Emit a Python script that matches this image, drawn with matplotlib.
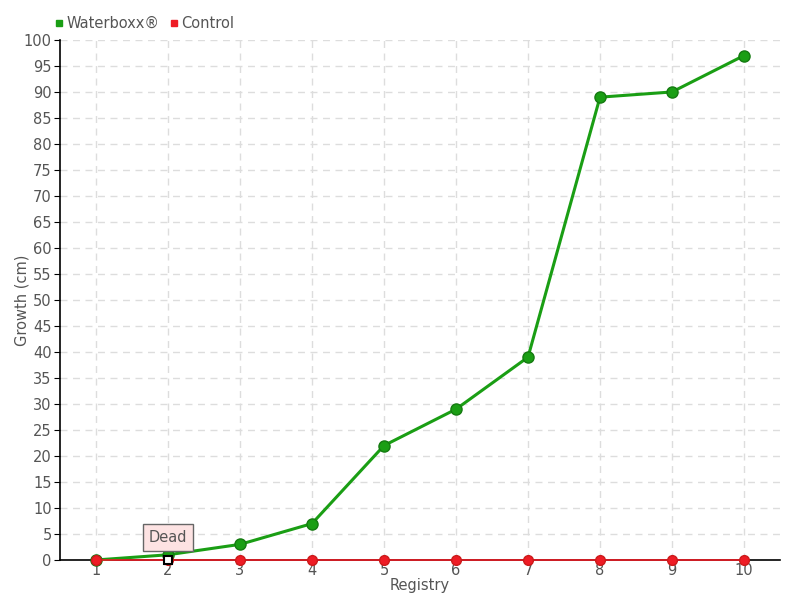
import matplotlib
matplotlib.use("Agg")
import matplotlib.pyplot as plt
from matplotlib.lines import Line2D

registry = [1, 2, 3, 4, 5, 6, 7, 8, 9, 10]
waterboxx = [0, 1, 3, 7, 22, 29, 39, 89, 90, 97]
control = [0, 0, 0, 0, 0, 0, 0, 0, 0, 0]

green = "#1a9e14"
red = "#ee1c25"
txt = "#555555"

fig = plt.figure(figsize=(8, 6), dpi=100)
ax = fig.add_axes([0.075, 0.0667, 0.9, 0.8667])

ax.plot(registry, waterboxx, color=green, lw=2.2, marker="o", ms=8,
        markerfacecolor=green, markeredgecolor="#147a10", zorder=5, clip_on=False)
ax.plot(registry, control, color=red, lw=1.2, marker="o", ms=7,
        markerfacecolor=red, markeredgecolor="#cc1a1a", zorder=6, clip_on=False)
# highlighted point
ax.plot(registry[1], control[1], marker="s", ms=6, markerfacecolor="white",
        markeredgecolor="black", markeredgewidth=1.5, zorder=7, clip_on=False)

ax.annotate("Dead", xy=(registry[1], control[1]), xytext=(0, 16),
            textcoords="offset points", ha="center", va="center",
            fontsize=10.5, color=txt, zorder=8,
            bbox=dict(boxstyle="square,pad=0.4", fc="#fde3e3", ec="#666666", lw=1))

ax.set_xlim(0.5, 10.5)
ax.set_ylim(0, 100)
ax.set_xticks(registry)
ax.set_yticks(range(0, 101, 5))
ax.tick_params(axis="y", direction="out", length=4, labelsize=10.5, labelcolor=txt, pad=2)
ax.tick_params(axis="x", length=0, labelsize=10.5, labelcolor=txt, pad=2)
ax.grid(True, color="#dddddd", ls=(0, (5, 4)), lw=1)
ax.set_axisbelow(True)
for s in ["top", "right"]:
    ax.spines[s].set_visible(False)
ax.spines["left"].set_linewidth(1.2)
ax.spines["bottom"].set_linewidth(1.2)
ax.set_xlabel("Registry", color=txt, fontsize=10.5, labelpad=0)
ax.set_ylabel("Growth (cm)", color=txt, fontsize=10.5)
ax.yaxis.set_label_coords(-0.042, 0.5)

handles = [Line2D([], [], ls="", marker="s", ms=5, color=green),
           Line2D([], [], ls="", marker="s", ms=5, color=red)]
fig.legend(handles, ["Waterboxx®", "Control"], loc="upper left",
           bbox_to_anchor=(0.05, 0.995), ncol=2, frameon=False, fontsize=10.5,
           handletextpad=0.1, columnspacing=0.6, handlelength=0.8,
           labelcolor=txt)

fig.savefig("out.png", dpi=100)
